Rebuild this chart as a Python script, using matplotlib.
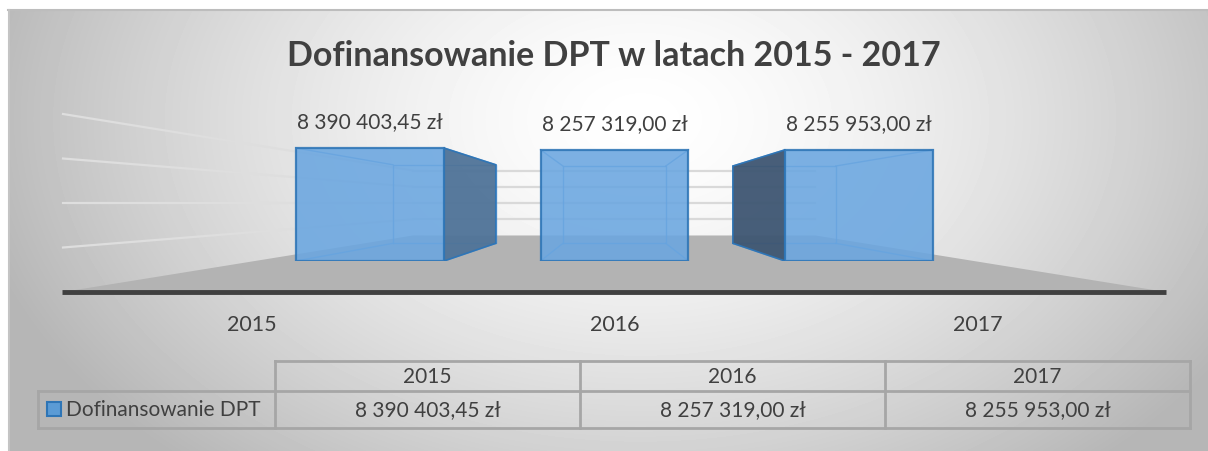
import numpy as np
import matplotlib
matplotlib.use("Agg")
import matplotlib.pyplot as plt

# data
years = ["2015", "2016", "2017"]
values = [8390403.45, 8257319.00, 8255953.00]
series_name = "Dofinansowanie DPT"
title = "Dofinansowanie DPT w latach 2015 - 2017"
grid_values = [2e6, 4e6, 6e6, 8e6]

W, H = 1208, 452
plt.rcParams['font.family'] = ['Lato', 'DejaVu Sans']
TXT = '#404040'


def fmt(v):
    return f"{v:,.2f}".replace(",", " ").replace(".", ",") + " zł"


def Y(y):
    # reference pixel row (top-down) -> display pixel (bottom-up)
    return H - y


fig = plt.figure(figsize=(W / 100, H / 100), dpi=100)
bg = fig.add_axes([0, 0, 1, 1])
bg.set_xlim(0, W)
bg.set_ylim(0, H)
bg.axis('off')

# radial gray background of the chart area
xx, yy = np.meshgrid(np.arange(8, W), np.arange(11, H))
d = np.sqrt(((xx - 640) / 620) ** 2 + ((yy - 120) / 420) ** 2)
g = 1 - 0.25 * np.clip(d, 0, 1.1) ** 1.5
bg.imshow(g, cmap='gray', vmin=0, vmax=1, extent=(8, W, Y(H), Y(11)),
          aspect='auto', zorder=0, interpolation='bilinear')
bg.plot([8, W], [Y(11), Y(11)], color='#bdbdbd', lw=1.5, zorder=1)
bg.plot([8.5, 8.5], [Y(11), 0], color='#c4c4c4', lw=1.5, zorder=1)

# perspective set-up
VPX, VPY = 614, Y(204)
floor_front = Y(293)
front_left, front_right = 63, 1166
wall_k = 0.365        # depth of back wall
bar_k = 0.695         # depth of bar back faces
unit = (VPY - floor_front) / 4e6


def to_back(x, y, k):
    return VPX + k * (x - VPX), VPY + k * (y - VPY)


# left wall + back wall gridlines
bl_x, _ = to_back(front_left, floor_front, wall_k)
br_x, _ = to_back(front_right, floor_front, wall_k)
for gv in grid_values:
    yf = floor_front + gv * unit
    bx, by = to_back(front_left, yf, wall_k)
    bg.plot([front_left, bx], [yf, by], color='#dedede', lw=1.6, zorder=2)
    bg.plot([bx, br_x], [by, by], color='#d9d9d9', lw=1.6, zorder=2)

# floor
fb = to_back(front_left, floor_front, wall_k)[1]
bg.fill([front_left, front_right, br_x, bl_x],
        [floor_front, floor_front, fb, fb], color='#b3b3b3', zorder=3, lw=0)
bg.plot([front_left - 1, front_right], [floor_front, floor_front],
        color='#404040', lw=3.5, zorder=4, solid_capstyle='butt')

# bars
ax = fig.add_axes([247.75 / W, Y(262) / H, 733.5 / W, 121.2 / H])
ax.set_xlim(-0.5, 2.5)
ax.set_ylim(0, 9e6)
ax.axis('off')
ax.patch.set_visible(False)
x = np.arange(len(values))
bars = ax.bar(x, values, width=0.605, color='#6aa6e0', alpha=0.88,
              edgecolor='#2e75b6', linewidth=1.6, zorder=5)

for i, (b, v) in enumerate(zip(bars, values)):
    (x0, y0), (x1, y1) = ax.transData.transform(
        [(b.get_x(), 0), (b.get_x() + b.get_width(), v)])
    bx0, by0 = to_back(x0, y0, bar_k)
    bx1, by1 = to_back(x1, y1, bar_k)
    # inner (back) edges seen through the front face
    kw = dict(color='#4d93da', lw=1.0, alpha=0.8, zorder=3,
              transform=bg.transData)
    ax.plot([bx0, bx1, bx1, bx0, bx0], [by0, by0, by1, by1, by0], **kw)
    for (fx, fy), (qx, qy) in [((x0, y0), (bx0, by0)), ((x1, y0), (bx1, by0)),
                               ((x0, y1), (bx0, by1)), ((x1, y1), (bx1, by1))]:
        ax.plot([fx, qx], [fy, qy], **kw)
    if x1 < VPX:
        ax.fill([x1, bx1, bx1, x1], [y1, by1, by0, y0], color='#4f7398',
                ec='#2e75b6', lw=1.2, alpha=0.95, zorder=4,
                transform=bg.transData)
    elif x0 > VPX:
        ax.fill([x0, bx0, bx0, x0], [y1, by1, by0, y0], color='#3e5672',
                ec='#2e75b6', lw=1.2, alpha=0.95, zorder=4,
                transform=bg.transData)
    ax.annotate(fmt(v), (i, v), xytext=(0, 17), textcoords='offset pixels',
                ha='center', va='bottom', fontsize=15, color=TXT)
    # category label at the front edge
    cx = (x0 + x1) / 2
    bg.text(VPX + 1.485 * (cx - VPX), Y(325), years[i], ha='center',
            va='center', fontsize=15.5, color=TXT)

# title
bg.text(614, Y(56), title, ha='center', va='center', fontsize=24.5,
        fontweight='bold', color=TXT)

# data table
col_edges = [275, 580, 885, 1190]
key_left = 38
t_top, t_mid, t_bot = Y(362), Y(392), Y(429)
lc = dict(color='#a6a6a6', lw=2, zorder=5)
bg.plot([col_edges[0], col_edges[-1]], [t_top, t_top], **lc)
bg.plot([key_left, col_edges[-1]], [t_mid, t_mid], **lc)
bg.plot([key_left, col_edges[-1]], [t_bot, t_bot], **lc)
bg.plot([key_left, key_left], [t_mid, t_bot], **lc)
for ce in col_edges:
    bg.plot([ce, ce], [t_top, t_bot], **lc)
for i in range(len(years)):
    cx = (col_edges[i] + col_edges[i + 1]) / 2
    bg.text(cx, (t_top + t_mid) / 2, years[i], ha='center', va='center',
            fontsize=15, color=TXT)
    bg.text(cx, (t_mid + t_bot) / 2, fmt(values[i]), ha='center',
            va='center', fontsize=15, color=TXT)
bg.add_patch(plt.Rectangle((47, Y(417)), 14, 14, facecolor='#5b9bd5',
                           edgecolor='#2e75b6', lw=1.5, zorder=6))
bg.text(66, (t_mid + t_bot) / 2, series_name, ha='left', va='center',
        fontsize=15, color=TXT)

fig.savefig('out.png', dpi=100)
